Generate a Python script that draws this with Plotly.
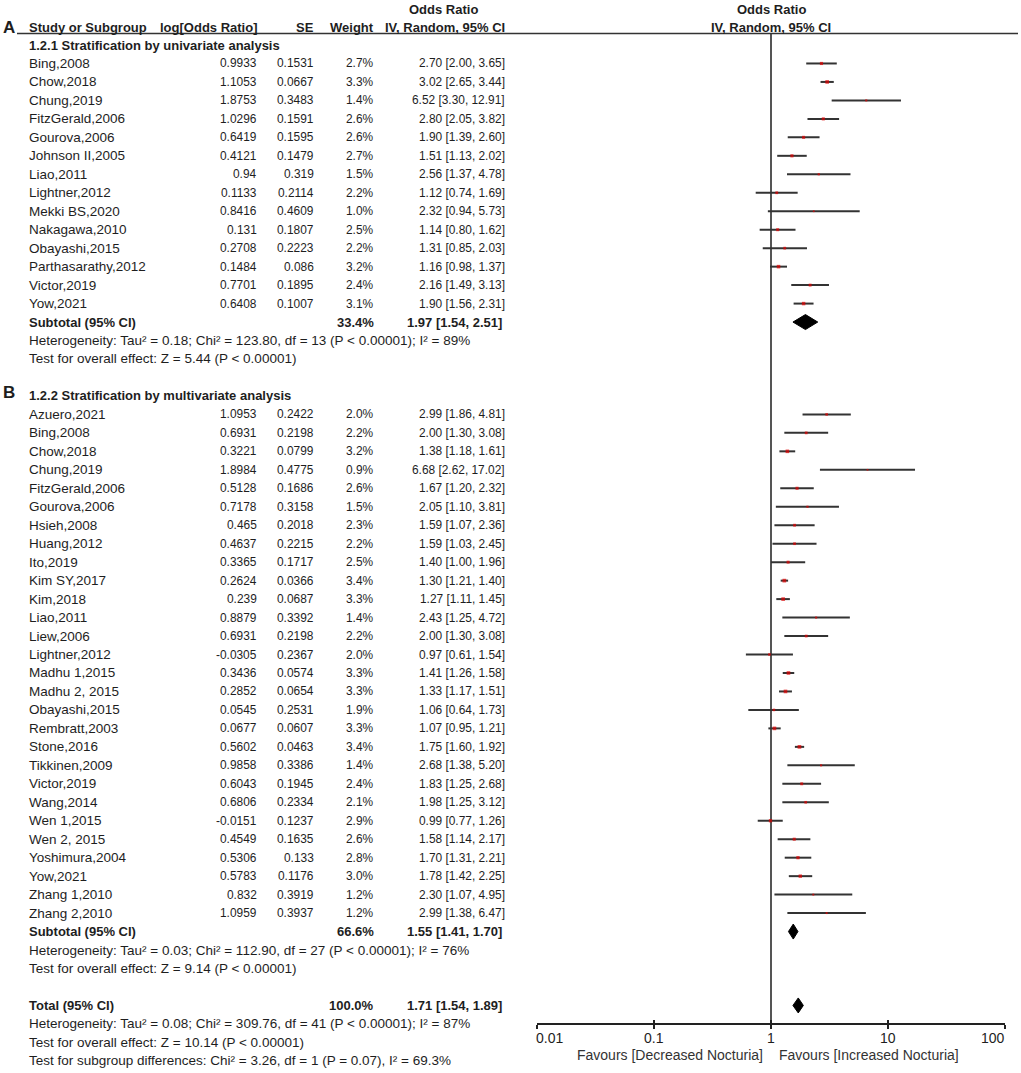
import numpy as np
import plotly.graph_objects as go

# ---------------- data ----------------
a_study = ["Bing,2008", "Chow,2018", "Chung,2019", "FitzGerald,2006", "Gourova,2006",
           "Johnson II,2005", "Liao,2011", "Lightner,2012", "Mekki BS,2020", "Nakagawa,2010",
           "Obayashi,2015", "Parthasarathy,2012", "Victor,2019", "Yow,2021"]
a_logor = [0.9933, 1.1053, 1.8753, 1.0296, 0.6419, 0.4121, 0.94, 0.1133, 0.8416, 0.131,
           0.2708, 0.1484, 0.7701, 0.6408]
a_se = [0.1531, 0.0667, 0.3483, 0.1591, 0.1595, 0.1479, 0.319, 0.2114, 0.4609, 0.1807,
        0.2223, 0.086, 0.1895, 0.1007]
a_weight = [2.7, 3.3, 1.4, 2.6, 2.6, 2.7, 1.5, 2.2, 1.0, 2.5, 2.2, 3.2, 2.4, 3.1]
a_or = [2.70, 3.02, 6.52, 2.80, 1.90, 1.51, 2.56, 1.12, 2.32, 1.14, 1.31, 1.16, 2.16, 1.90]
a_lo = [2.00, 2.65, 3.30, 2.05, 1.39, 1.13, 1.37, 0.74, 0.94, 0.80, 0.85, 0.98, 1.49, 1.56]
a_hi = [3.65, 3.44, 12.91, 3.82, 2.60, 2.02, 4.78, 1.69, 5.73, 1.62, 2.03, 1.37, 3.13, 2.31]

b_study = ["Azuero,2021", "Bing,2008", "Chow,2018", "Chung,2019", "FitzGerald,2006",
           "Gourova,2006", "Hsieh,2008", "Huang,2012", "Ito,2019", "Kim SY,2017", "Kim,2018",
           "Liao,2011", "Liew,2006", "Lightner,2012", "Madhu 1,2015", "Madhu 2, 2015",
           "Obayashi,2015", "Rembratt,2003", "Stone,2016", "Tikkinen,2009", "Victor,2019",
           "Wang,2014", "Wen 1,2015", "Wen 2, 2015", "Yoshimura,2004", "Yow,2021",
           "Zhang 1,2010", "Zhang 2,2010"]
b_logor = [1.0953, 0.6931, 0.3221, 1.8984, 0.5128, 0.7178, 0.465, 0.4637, 0.3365, 0.2624,
           0.239, 0.8879, 0.6931, -0.0305, 0.3436, 0.2852, 0.0545, 0.0677, 0.5602, 0.9858,
           0.6043, 0.6806, -0.0151, 0.4549, 0.5306, 0.5783, 0.832, 1.0959]
b_se = [0.2422, 0.2198, 0.0799, 0.4775, 0.1686, 0.3158, 0.2018, 0.2215, 0.1717, 0.0366,
        0.0687, 0.3392, 0.2198, 0.2367, 0.0574, 0.0654, 0.2531, 0.0607, 0.0463, 0.3386,
        0.1945, 0.2334, 0.1237, 0.1635, 0.133, 0.1176, 0.3919, 0.3937]
b_weight = [2.0, 2.2, 3.2, 0.9, 2.6, 1.5, 2.3, 2.2, 2.5, 3.4, 3.3, 1.4, 2.2, 2.0, 3.3, 3.3,
            1.9, 3.3, 3.4, 1.4, 2.4, 2.1, 2.9, 2.6, 2.8, 3.0, 1.2, 1.2]
b_or = [2.99, 2.00, 1.38, 6.68, 1.67, 2.05, 1.59, 1.59, 1.40, 1.30, 1.27, 2.43, 2.00, 0.97,
        1.41, 1.33, 1.06, 1.07, 1.75, 2.68, 1.83, 1.98, 0.99, 1.58, 1.70, 1.78, 2.30, 2.99]
b_lo = [1.86, 1.30, 1.18, 2.62, 1.20, 1.10, 1.07, 1.03, 1.00, 1.21, 1.11, 1.25, 1.30, 0.61,
        1.26, 1.17, 0.64, 0.95, 1.60, 1.38, 1.25, 1.25, 0.77, 1.14, 1.31, 1.42, 1.07, 1.38]
b_hi = [4.81, 3.08, 1.61, 17.02, 2.32, 3.81, 2.36, 2.45, 1.96, 1.40, 1.45, 4.72, 3.08, 1.54,
        1.58, 1.51, 1.73, 1.21, 1.92, 5.20, 2.68, 3.12, 1.26, 2.17, 2.21, 2.25, 4.95, 6.47]

pooled_label = ["Subtotal (95% CI)", "Subtotal (95% CI)", "Total (95% CI)"]
pooled_weight = [33.4, 66.6, 100.0]
pooled_or = [1.97, 1.55, 1.71]
pooled_lo = [1.54, 1.41, 1.54]
pooled_hi = [2.51, 1.70, 1.89]

group_titles = ["1.2.1 Stratification by univariate analysis",
                "1.2.2 Stratification by multivariate analysis"]
group_letters = ["A", "B"]
a_stats = ["Heterogeneity: Tau² = 0.18; Chi² = 123.80, df = 13 (P < 0.00001); I² = 89%",
           "Test for overall effect: Z = 5.44 (P < 0.00001)"]
b_stats = ["Heterogeneity: Tau² = 0.03; Chi² = 112.90, df = 27 (P < 0.00001); I² = 76%",
           "Test for overall effect: Z = 9.14 (P < 0.00001)"]
total_stats = ["Heterogeneity: Tau² = 0.08; Chi² = 309.76, df = 41 (P < 0.00001); I² = 87%",
               "Test for overall effect: Z = 10.14 (P < 0.00001)",
               "Test for subgroup differences: Chi² = 3.26, df = 1 (P = 0.07), I² = 69.3%"]

tick_vals = [0.01, 0.1, 1, 10, 100]
tick_text = ["0.01", "0.1", "1", "10", "100"]
favours = ["Favours [Decreased Nocturia]", "Favours [Increased Nocturia]"]

# ---------------- layout constants (window pixel space) ----------------
FW, FH = 1021, 1073
Y0, DY = 45.0, 18.47
def row_y(n):
    return Y0 + n * DY

FONT = "Liberation Sans, Arial, sans-serif"
TXT = "#1e1e1e"
FS_TXT, FS_BOLD, FS_NUM = 13.5, 13, 11.9
X_NAME, X_LOG, X_SE, X_W, X_CI = 27, 259, 316, 376, 507
AX_Y = 1024
HEAD_LINE_Y = 33.5
X_ONE = 771

fig = go.Figure()
ann = []

def text(x, y, s, anchor="left", bold=False, size=None, color=TXT):
    if size is None:
        size = FS_BOLD if bold else FS_TXT
    ann.append(dict(x=x, y=y, xref="x", yref="y", text=("<b>%s</b>" % s) if bold else s,
                    showarrow=False, xanchor=anchor, yanchor="middle",
                    font=dict(family=FONT, size=size, color=color)))

# header
text(443, 9, "Odds Ratio", "center", True)
text(X_NAME, 27, "Study or Subgroup", "left", True)
text(X_LOG + 1, 27, "log[Odds Ratio]", "right", True)
text(X_SE, 27, "SE", "right", True)
text(X_W, 27, "Weight", "right", True)
text(X_CI, 27, "IV, Random, 95% CI", "right", True)
text(X_ONE, 9, "Odds Ratio", "center", True)
text(X_ONE, 27, "IV, Random, 95% CI", "center", True)
text(1, 27, group_letters[0], "left", True, 17)

groups = [(a_study, a_logor, a_se, a_weight, a_or, a_lo, a_hi, a_stats),
          (b_study, b_logor, b_se, b_weight, b_or, b_lo, b_hi, b_stats)]
diam = []
est_x, est_y, est_w = [], [], []
ci_x, ci_y = [], []
n = 0
for gi, (st, lg, se, wt, orr, lo, hi, stats) in enumerate(groups):
    if gi == 1:
        text(1, row_y(n) - 3, group_letters[1], "left", True, 17)
    text(X_NAME, row_y(n), group_titles[gi], "left", True)
    n += 1
    for i in range(len(st)):
        y = row_y(n)
        text(X_NAME, y, st[i])
        text(X_LOG, y, repr(lg[i]), "right", size=FS_NUM)
        text(X_SE, y, repr(se[i]), "right", size=FS_NUM)
        text(X_W, y, "%.1f%%" % wt[i], "right", size=FS_NUM)
        text(X_CI, y, "%.2f [%.2f, %.2f]" % (orr[i], lo[i], hi[i]), "right", size=FS_NUM)
        ci_x += [lo[i], hi[i], None]
        ci_y += [y, y, None]
        est_x.append(orr[i]); est_y.append(y); est_w.append(wt[i])
        n += 1
    y = row_y(n)
    text(X_NAME, y, pooled_label[gi], "left", True)
    text(X_W, y, "%.1f%%" % pooled_weight[gi], "right", True)
    text(X_CI - 3, y, "%.2f [%.2f, %.2f]" % (pooled_or[gi], pooled_lo[gi], pooled_hi[gi]), "right", True)
    diam.append((pooled_lo[gi], pooled_or[gi], pooled_hi[gi], y))
    n += 1
    for s in stats:
        text(X_NAME, row_y(n), s)
        n += 1
    n += 1  # blank line

y = row_y(n)
text(X_NAME, y, pooled_label[2], "left", True)
text(X_W, y, "%.1f%%" % pooled_weight[2], "right", True)
text(X_CI - 3, y, "%.2f [%.2f, %.2f]" % (pooled_or[2], pooled_lo[2], pooled_hi[2]), "right", True)
diam.append((pooled_lo[2], pooled_or[2], pooled_hi[2], y))
n += 1
for s in total_stats:
    text(X_NAME, row_y(n), s)
    n += 1

# header rule
fig.add_shape(type="line", xref="x", yref="y", x0=17, x1=1018, y0=HEAD_LINE_Y, y1=HEAD_LINE_Y,
              line=dict(color="#333333", width=1.5))

# line of no effect
fig.add_trace(go.Scatter(x=[1, 1], y=[HEAD_LINE_Y, AX_Y], mode="lines", xaxis="x2", yaxis="y",
                         line=dict(color="#555555", width=2), hoverinfo="skip", showlegend=False))
# CIs
fig.add_trace(go.Scatter(x=ci_x, y=ci_y, mode="lines", xaxis="x2", yaxis="y",
                         line=dict(color="#333333", width=2), hoverinfo="skip", showlegend=False))
# point estimates
fig.add_trace(go.Scatter(x=est_x, y=est_y, mode="markers", xaxis="x2", yaxis="y",
                         marker=dict(symbol="square", color="#e00000",
                                     size=[1.0 + 0.8 * w for w in est_w], line=dict(width=0)),
                         hoverinfo="skip", showlegend=False))
# diamonds
HH = 7.5
for lo, est, hi, y in diam:
    fig.add_trace(go.Scatter(x=[lo, est, hi, est, lo], y=[y, y - HH, y, y + HH, y],
                             mode="lines", fill="toself", fillcolor="black",
                             line=dict(color="black", width=1), xaxis="x2", yaxis="y",
                             hoverinfo="skip", showlegend=False))
# invisible trace for the inner-tick axis
fig.add_trace(go.Scatter(x=[1], y=[AX_Y], mode="markers", xaxis="x3", yaxis="y",
                         marker=dict(opacity=0), hoverinfo="skip", showlegend=False))

# tick labels
tick_anchor = ["left", "center", "center", "center", "right"]
tick_shift = [-3, 0, 0, 0, 2]
for v, t, a, sh in zip(tick_vals, tick_text, tick_anchor, tick_shift):
    ann.append(dict(x=np.log10(v), y=1037.5, xref="x2", yref="y", text=t, showarrow=False,
                    xanchor=a, yanchor="middle", xshift=sh,
                    font=dict(family=FONT, size=14, color=TXT)))
ann.append(dict(x=0, y=1054.5, xref="x2", yref="y", text=favours[0], showarrow=False,
                xanchor="right", yanchor="middle", xshift=-6,
                font=dict(family=FONT, size=14, color="#333333")))
ann.append(dict(x=0, y=1054.5, xref="x2", yref="y", text=favours[1], showarrow=False,
                xanchor="left", yanchor="middle", xshift=6,
                font=dict(family=FONT, size=14, color="#333333")))

dom = [537 / FW, 1005 / FW]
pos = (FH - AX_Y) / FH
fig.update_layout(
    width=FW, height=FH, margin=dict(l=0, r=0, t=0, b=0),
    paper_bgcolor="white", plot_bgcolor="white", showlegend=False,
    annotations=ann,
    xaxis=dict(range=[0, FW], visible=False, domain=[0, 1]),
    yaxis=dict(range=[FH, 0], visible=False, domain=[0, 1]),
    xaxis2=dict(type="log", range=[-2, 2], domain=dom, anchor="free", position=pos,
                showline=True, linecolor="#222222", linewidth=1.5, ticks="outside",
                ticklen=4, tickwidth=1.5, tickcolor="#222222", tickvals=tick_vals,
                showticklabels=False, showgrid=False, zeroline=False),
    xaxis3=dict(type="log", range=[-2, 2], domain=dom, anchor="free", position=pos,
                overlaying="x2", showline=False, ticks="inside", ticklen=4, tickwidth=1.5,
                tickcolor="#222222", tickvals=tick_vals, showticklabels=False,
                showgrid=False, zeroline=False),
)
fig.write_html("out.html", config={"displayModeBar": False},
               post_script="document.body.style.margin='0px';")
